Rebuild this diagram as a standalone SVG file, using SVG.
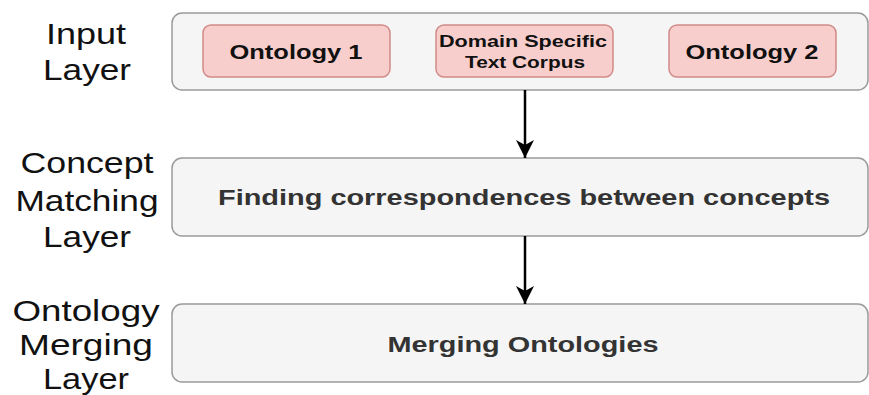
<svg xmlns="http://www.w3.org/2000/svg" width="869" height="395" viewBox="0 0 869 395">
<style>
.lbl{font-family:"Liberation Sans",Arial,sans-serif;font-size:30px;fill:#111;text-anchor:middle}
.layer{fill:#f5f5f5;stroke:#9a9a9a;stroke-width:1.5}
.src{fill:#f8cecc;stroke:#d08a88;stroke-width:1.5}
.bt{font-family:"Liberation Sans",Arial,sans-serif;font-weight:bold;fill:#111;text-anchor:middle}
.gt{font-family:"Liberation Sans",Arial,sans-serif;font-weight:bold;fill:#333;text-anchor:middle;font-size:22px}
.conn{stroke:#000;stroke-width:2.5;fill:none}
</style>
<defs>
<marker id="ah" markerUnits="userSpaceOnUse" markerWidth="20" markerHeight="20" refX="18" refY="9" orient="auto" viewBox="0 0 20 18">
<path d="M0,0 L18,9 L0,18 L5,9 Z" fill="#000"/>
</marker>
</defs>
<rect width="869" height="395" fill="#fff"/>
<g id="labels">
<text class="lbl" x="86" y="44" textLength="80" lengthAdjust="spacingAndGlyphs">Input</text>
<text class="lbl" x="87" y="80" textLength="88" lengthAdjust="spacingAndGlyphs">Layer</text>
<text class="lbl" x="87" y="173" textLength="133" lengthAdjust="spacingAndGlyphs">Concept</text>
<text class="lbl" x="87" y="211" textLength="143" lengthAdjust="spacingAndGlyphs">Matching</text>
<text class="lbl" x="87" y="247" textLength="88" lengthAdjust="spacingAndGlyphs">Layer</text>
<text class="lbl" x="86" y="321" textLength="147" lengthAdjust="spacingAndGlyphs">Ontology</text>
<text class="lbl" x="86" y="355" textLength="134" lengthAdjust="spacingAndGlyphs">Merging</text>
<text class="lbl" x="86" y="389" font-size="28" textLength="86" lengthAdjust="spacingAndGlyphs">Layer</text>
</g>
<g id="input-layer">
<rect class="layer" x="172" y="13" width="696" height="77" rx="10"/>
</g>
<g id="ontology1">
<rect class="src" x="203" y="25" width="187" height="52" rx="8"/>
<text class="bt" x="296" y="59" font-size="21" textLength="133" lengthAdjust="spacingAndGlyphs">Ontology 1</text>
</g>
<g id="corpus">
<rect class="src" x="436" y="25" width="177" height="52" rx="8"/>
<text class="bt" x="523" y="47" font-size="17" textLength="168" lengthAdjust="spacingAndGlyphs">Domain Specific</text>
<text class="bt" x="525" y="68" font-size="17" textLength="120" lengthAdjust="spacingAndGlyphs">Text Corpus</text>
</g>
<g id="ontology2">
<rect class="src" x="669" y="25" width="167" height="52" rx="8"/>
<text class="bt" x="752" y="59" font-size="21" textLength="133" lengthAdjust="spacingAndGlyphs">Ontology 2</text>
</g>
<g id="matching">
<rect class="layer" x="172" y="158" width="696" height="78" rx="10"/>
<text class="gt" x="524" y="205" textLength="612" lengthAdjust="spacingAndGlyphs">Finding correspondences between concepts</text>
</g>
<g id="merging">
<rect class="layer" x="172" y="304" width="696" height="78" rx="10"/>
<text class="gt" x="523" y="352" textLength="271" lengthAdjust="spacingAndGlyphs">Merging Ontologies</text>
</g>
<g id="connectors">
<line class="conn" x1="525" y1="90" x2="525" y2="158" marker-end="url(#ah)"/>
<line class="conn" x1="525" y1="236" x2="525" y2="304" marker-end="url(#ah)"/>
</g>
</svg>
